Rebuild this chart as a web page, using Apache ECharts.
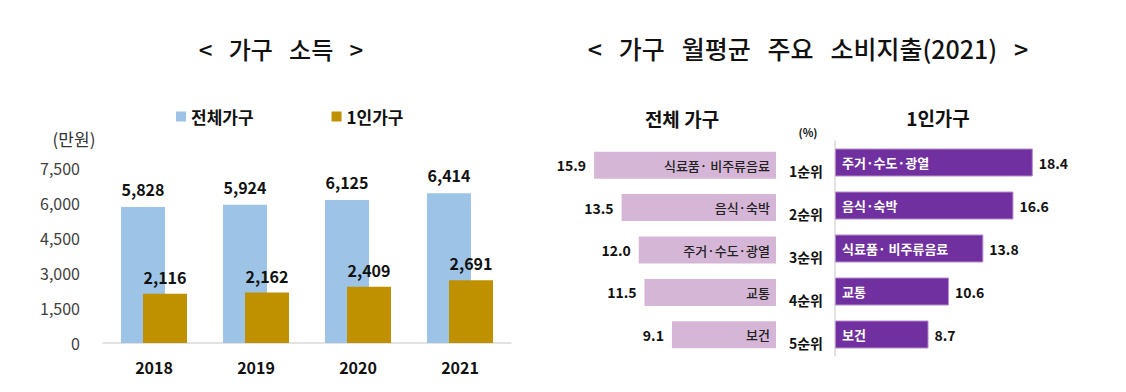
<!DOCTYPE html>
<html>
<head>
<meta charset="utf-8">
<script src="https://cdn.jsdelivr.net/npm/echarts@6/dist/echarts.min.js"></script>
<style>
html,body{margin:0;padding:0;background:#fff;}
#c{width:1126px;height:392px;}
</style>
</head>
<body>
<div id="c"></div>
<script>
// ---- data ----
const years = ['2018', '2019', '2020', '2021'];
const totalIncome = [5828, 5924, 6125, 6414];
const singleIncome = [2116, 2162, 2409, 2691];
const incomeTicks = { min: 0, max: 7500, interval: 1500 };

const ranks = ['1순위', '2순위', '3순위', '4순위', '5순위'];
const totalItems = ['식료품· 비주류음료', '음식·숙박', '주거·수도·광열', '교통', '보건'];
const totalShare = [15.9, 13.5, 12.0, 11.5, 9.1];
const singleItems = ['주거·수도·광열', '음식·숙박', '식료품· 비주류음료', '교통', '보건'];
const singleShare = [18.4, 16.6, 13.8, 10.6, 8.7];

const FONT = "'Noto Sans CJK KR', 'Noto Sans', sans-serif";
const fmtThousands = v => String(v).replace(/\B(?=(\d{3})+(?!\d))/g, ',');

const chart = echarts.init(document.getElementById('c'), null, { renderer: 'svg' });

const option = {
  animation: false,
  backgroundColor: '#fff',
  textStyle: { fontFamily: FONT },
  graphic: [
    { type: 'text', x: 281, y: 48, style: { text: '<   가구   소득   >', font: '500 24px ' + FONT, fill: '#111', textAlign: 'center', textVerticalAlign: 'middle' } },
    { type: 'text', x: 808, y: 48, style: { text: '<   가구   월평균   주요   소비지출(2021)   >', font: '500 25px ' + FONT, fill: '#111', textAlign: 'center', textVerticalAlign: 'middle' } },
    { type: 'text', x: 74, y: 138, style: { text: '(만원)', font: '400 17px ' + FONT, fill: '#333', textAlign: 'center', textVerticalAlign: 'middle' } },
    { type: 'text', x: 682, y: 118, style: { text: '전체 가구', font: '700 19px ' + FONT, fill: '#111', textAlign: 'center', textVerticalAlign: 'middle' } },
    { type: 'text', x: 938, y: 117, style: { text: '1인가구', font: '700 19px ' + FONT, fill: '#111', textAlign: 'center', textVerticalAlign: 'middle' } },
    { type: 'text', x: 808, y: 132, style: { text: '(%)', font: '700 11px ' + FONT, fill: '#111', textAlign: 'center', textVerticalAlign: 'middle' } }
  ],
  legend: {
    data: ['전체가구', '1인가구'],
    left: 171, top: 103,
    icon: 'rect', itemWidth: 10, itemHeight: 10, itemGap: 78,
    textStyle: { fontSize: 17, fontWeight: 'bold', color: '#111', fontFamily: FONT }
  },
  grid: [
    { left: 103, top: 168, width: 408, height: 175 },
    { left: 593, right: 350, top: 144, bottom: 36 },
    { left: 835, right: 76, top: 141, bottom: 36 }
  ],
  xAxis: [
    {
      gridIndex: 0, type: 'category', data: years,
      axisLine: { lineStyle: { color: '#D9D9D9', width: 1.5 } },
      axisTick: { show: false },
      axisLabel: { fontSize: 16, fontWeight: 'bold', color: '#111', margin: 16 }
    },
    { gridIndex: 1, type: 'value', min: 0, max: 16, inverse: true, show: false, splitLine: { show: false } },
    { gridIndex: 2, type: 'value', min: 0, max: 20, show: false, splitLine: { show: false } }
  ],
  yAxis: [
    {
      gridIndex: 0, type: 'value', min: incomeTicks.min, max: incomeTicks.max, interval: incomeTicks.interval,
      axisLine: { show: false }, axisTick: { show: false }, splitLine: { show: false },
      axisLabel: { fontSize: 16, color: '#404040', margin: 23, formatter: v => fmtThousands(v) }
    },
    { gridIndex: 1, type: 'category', data: ranks, inverse: true, show: false },
    {
      gridIndex: 2, type: 'category', data: ranks, inverse: true,
      axisLine: { show: true, lineStyle: { color: '#D9D9D9', width: 1.5 } },
      axisTick: { show: false },
      axisLabel: { fontSize: 14, fontWeight: 'bold', color: '#111', margin: 12, verticalAlign: 'top', lineHeight: 16 }
    }
  ],
  series: [
    {
      name: '전체가구', type: 'bar', xAxisIndex: 0, yAxisIndex: 0,
      data: totalIncome, barWidth: 44, barGap: '-50%',
      itemStyle: { color: '#9DC3E6' },
      label: { show: true, position: 'top', distance: 10, fontSize: 16, fontWeight: 'bold', color: '#111', formatter: p => fmtThousands(p.value) }
    },
    {
      name: '1인가구', type: 'bar', xAxisIndex: 0, yAxisIndex: 0,
      data: singleIncome, barWidth: 44, barGap: '-50%',
      itemStyle: { color: '#BF9000' },
      label: { show: true, position: 'top', distance: 9, fontSize: 16, fontWeight: 'bold', color: '#111', formatter: p => fmtThousands(p.value) }
    },
    {
      name: 'total-share', type: 'bar', xAxisIndex: 1, yAxisIndex: 1,
      data: totalShare, barWidth: 27, barGap: '-100%',
      itemStyle: { color: '#D5B6D6' },
      label: { show: true, position: 'insideRight', distance: 6, fontSize: 13, fontWeight: 500, color: '#222', formatter: p => totalItems[p.dataIndex] }
    },
    {
      name: 'total-share-value', type: 'bar', xAxisIndex: 1, yAxisIndex: 1,
      data: totalShare, barWidth: 27, barGap: '-100%', silent: true,
      itemStyle: { color: 'rgba(0,0,0,0)' },
      label: { show: true, position: 'left', distance: 8, fontSize: 14, fontWeight: 'bold', color: '#111', formatter: p => p.value.toFixed(1) }
    },
    {
      name: 'single-share', type: 'bar', xAxisIndex: 2, yAxisIndex: 2,
      data: singleShare, barWidth: 28, barGap: '-100%',
      itemStyle: { color: '#7030A0', borderColor: '#B58ACB', borderWidth: 1 },
      label: { show: true, position: 'insideLeft', distance: 7, fontSize: 13, fontWeight: 'bold', color: '#fff', formatter: p => singleItems[p.dataIndex] }
    },
    {
      name: 'single-share-value', type: 'bar', xAxisIndex: 2, yAxisIndex: 2,
      data: singleShare, barWidth: 28, barGap: '-100%', silent: true,
      itemStyle: { color: 'rgba(0,0,0,0)' },
      label: { show: true, position: 'right', distance: 6, fontSize: 14, fontWeight: 'bold', color: '#111', formatter: p => p.value.toFixed(1) }
    }
  ]
};
chart.setOption(option);
</script>
</body>
</html>
